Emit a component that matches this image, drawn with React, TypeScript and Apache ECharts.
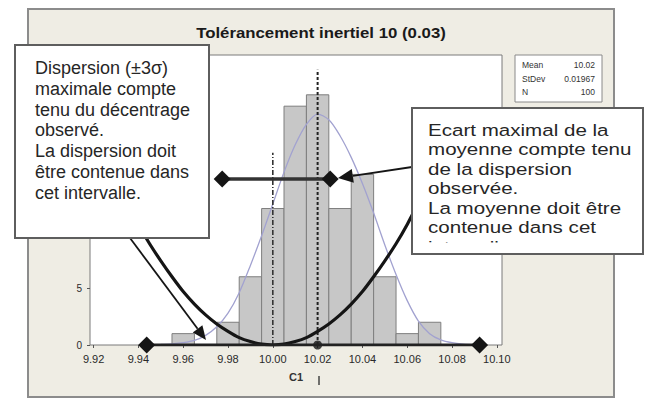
import React, { useEffect, useRef } from "react";
import * as echarts from "echarts";

// ---- data ----
const binCenters = [9.96, 9.97, 9.98, 9.99, 10.0, 10.01, 10.02, 10.03, 10.04, 10.05, 10.06, 10.07];
const binCounts = [1, 0, 2, 6, 12, 21, 22, 12, 15, 6, 1, 2];
const binWidth = 0.01;

const normalX = [9.95, 9.955, 9.96, 9.965, 9.97, 9.975, 9.98, 9.985, 9.99, 9.995, 10.0, 10.005, 10.01, 10.015, 10.02, 10.025, 10.03, 10.035, 10.04, 10.045, 10.05, 10.055, 10.06, 10.065, 10.07, 10.075, 10.08, 10.085, 10.09];
const normalY = [0.05, 0.1, 0.2, 0.4, 0.85, 1.6, 2.8, 4.6, 7.0, 9.6, 12.4, 15.2, 17.6, 19.4, 20.3, 19.8, 18.4, 16.5, 14.2, 11.6, 8.8, 6.2, 3.9, 2.1, 1.0, 0.45, 0.2, 0.08, 0.03];

const parabolaX = [9.935, 9.94, 9.945, 9.95, 9.955, 9.96, 9.965, 9.97, 9.975, 9.98, 9.985, 9.99, 9.995, 10.0, 10.005, 10.01, 10.015, 10.02, 10.025, 10.03, 10.035, 10.04, 10.045, 10.05, 10.055, 10.06, 10.065, 10.07, 10.075, 10.08];
const parabolaY = [12.5, 10.6, 8.9, 7.4, 6.0, 4.7, 3.6, 2.65, 1.85, 1.2, 0.65, 0.3, 0.07, 0, 0.07, 0.3, 0.65, 1.2, 1.85, 2.65, 3.6, 4.7, 6.0, 7.4, 8.9, 10.6, 12.5, 14.5, 16.6, 18.9];

const targetLineX = 10.0;
const targetLineTop = 16.9;
const meanLineX = 10.02;
const meanLineTop = 24.2;
const meanIntervalX = [9.9774, 10.0256];
const meanIntervalY = 14.6;
const dispersionIntervalX = [9.9437, 10.0923];
const meanPointX = 10.02;

const xTicks = [9.92, 9.94, 9.96, 9.98, 10.0, 10.02, 10.04, 10.06, 10.08, 10.1];
const yVisibleLabels = [0, 5]; // the others sit behind the left note in the reference
const xMin = 9.9184;
const xMax = 10.1023;
const yMax = 25.5;
const yInterval = 5;

const titleText = "Tolérancement inertiel 10 (0.03)";
const xName = "C1";
const statsLabels = ["Mean", "StDev", "N"];
const statsValues = ["10.02", "0.01967", "100"];

const leftNote =
  "Dispersion (±3σ)\nmaximale compte\ntenu du décentrage\nobservé.\nLa dispersion doit\nêtre contenue dans\ncet intervalle.";
const rightNote =
  "Ecart maximal de la\nmoyenne compte tenu\nde la dispersion\nobservée.\nLa moyenne doit être\ncontenue dans cet\nintervalle.";

const FONT = '"Liberation Sans", Arial, sans-serif';

export default function App() {
  const ref = useRef<HTMLDivElement>(null);

  useEffect(() => {
    if (!ref.current) return;
    const chart = echarts.init(ref.current, null, { renderer: "svg" });

    const bars = binCenters
      .map((c, i) => [c - binWidth / 2, c + binWidth / 2, binCounts[i]])
      .filter((d) => d[2] > 0);

    const ink = "#151515";

    const statsGraphics: any[] = [];
    statsLabels.forEach((lab, i) => {
      statsGraphics.push({
        type: "text",
        z: 101,
        x: 522,
        y: 65 + i * 13.5,
        style: { text: lab, fontFamily: FONT, fontSize: 8.5, fill: "#333", align: "left", verticalAlign: "middle" },
      });
      statsGraphics.push({
        type: "text",
        z: 101,
        x: 595,
        y: 65 + i * 13.5,
        style: { text: statsValues[i], fontFamily: FONT, fontSize: 8.5, fill: "#333", align: "right", verticalAlign: "middle" },
      });
    });

    const option: any = {
      animation: false,
      backgroundColor: "transparent",
      grid: {
        left: 90,
        right: 144,
        top: 55,
        bottom: 56,
        show: true,
        backgroundColor: "#ffffff",
        borderColor: "#7a7a7a",
        borderWidth: 1,
      },
      xAxis: {
        type: "value",
        min: xMin,
        max: xMax,
        name: xName,
        nameLocation: "middle",
        nameGap: 26,
        nameTextStyle: { fontFamily: FONT, fontSize: 11, color: "#333", fontWeight: "bold" },
        axisLine: { show: false },
        axisTick: { show: true, customValues: xTicks, length: 3, lineStyle: { color: "#555" } },
        axisLabel: {
          customValues: xTicks,
          formatter: (v: number) => v.toFixed(2),
          fontFamily: FONT,
          fontSize: 11,
          color: "#2a2a2a",
          margin: 8,
        },
        splitLine: { show: false },
      },
      yAxis: {
        type: "value",
        min: 0,
        max: yMax,
        interval: yInterval,
        axisLine: { show: false },
        axisTick: { show: true, length: 3, lineStyle: { color: "#555" } },
        axisLabel: {
          customValues: yVisibleLabels,
          fontFamily: FONT,
          fontSize: 10,
          color: "#2a2a2a",
          margin: 8,
        },
        splitLine: { show: false },
      },
      series: [
        {
          type: "custom",
          data: bars,
          renderItem: (params: any, api: any) => {
            const p0 = api.coord([api.value(0), 0]);
            const p1 = api.coord([api.value(1), api.value(2)]);
            return {
              type: "rect",
              shape: { x: p0[0], y: p1[1], width: p1[0] - p0[0], height: p0[1] - p1[1] },
              style: { fill: "#c7c7c7", stroke: "#7e7e7e", lineWidth: 1 },
            };
          },
        },
        {
          type: "line",
          data: normalX.map((x, i) => [x, normalY[i]]),
          smooth: 0.3,
          showSymbol: false,
          lineStyle: { color: "#a2a2d0", width: 1.3 },
        },
        {
          type: "line",
          data: [
            [targetLineX, 0],
            [targetLineX, targetLineTop],
          ],
          showSymbol: false,
          lineStyle: { color: "#333", width: 1.6, type: [5, 2, 1, 2] },
        },
        {
          type: "line",
          data: [
            [meanLineX, 0],
            [meanLineX, meanLineTop],
          ],
          showSymbol: false,
          lineStyle: { color: "#222", width: 2, type: [3, 2] },
        },
        {
          type: "line",
          data: parabolaX.map((x, i) => [x, parabolaY[i]]),
          smooth: 0.3,
          showSymbol: false,
          lineStyle: { color: ink, width: 3.2 },
        },
        {
          type: "line",
          data: meanIntervalX.map((x) => [x, meanIntervalY]),
          symbol: "diamond",
          symbolSize: 17,
          showSymbol: true,
          itemStyle: { color: ink },
          lineStyle: { color: "#333", width: 3.5 },
        },
        {
          type: "line",
          data: dispersionIntervalX.map((x) => [x, 0]),
          symbol: "diamond",
          symbolSize: 17,
          showSymbol: true,
          itemStyle: { color: ink },
          lineStyle: { color: "#222", width: 3 },
        },
        {
          type: "scatter",
          data: [[meanPointX, 0]],
          symbol: "circle",
          symbolSize: 9,
          itemStyle: { color: ink },
        },
      ],
      graphic: [
        {
          type: "text",
          z: 100,
          x: 321,
          y: 33,
          scaleX: 1.2,
          style: {
            text: titleText,
            fontFamily: FONT,
            fontSize: 14,
            fontWeight: "bold",
            fill: "#1a1a1a",
            align: "center",
            verticalAlign: "middle",
          },
        },
        {
          type: "rect",
          z: 100,
          shape: { x: 515, y: 55, width: 87, height: 47 },
          style: { fill: "#fff", stroke: "#8a8a8a", lineWidth: 1 },
        },
        ...statsGraphics,
        {
          type: "line",
          z: 100,
          shape: { x1: 319, y1: 376, x2: 319, y2: 385 },
          style: { stroke: "#444", lineWidth: 1.5 },
        },
        // left callout
        {
          type: "line",
          z: 100,
          shape: { x1: 130, y1: 238, x2: 197.6, y2: 328.8 },
          style: { stroke: ink, lineWidth: 1.8 },
        },
        {
          type: "polygon",
          z: 100,
          shape: { points: [[206, 340], [192.8, 332.4], [202.4, 325.2]] },
          style: { fill: ink },
        },
        {
          type: "rect",
          z: 110,
          shape: { x: 15, y: 45, width: 194, height: 193 },
          style: { fill: "#fff", stroke: "#5e5e5e", lineWidth: 2 },
        },
        {
          type: "text",
          z: 111,
          x: 35,
          y: 57.6,
          style: {
            text: leftNote,
            fontFamily: FONT,
            fontSize: 18,
            lineHeight: 20.8,
            fill: "#262626",
            align: "left",
            verticalAlign: "top",
          },
        },
        // right callout
        {
          type: "line",
          z: 100,
          shape: { x1: 412, y1: 167, x2: 352.8, y2: 175.8 },
          style: { stroke: ink, lineWidth: 1.8 },
        },
        {
          type: "polygon",
          z: 100,
          shape: { points: [[338, 178], [351.8, 168.9], [353.8, 182.7]] },
          style: { fill: ink },
        },
        {
          type: "rect",
          z: 110,
          shape: { x: 412, y: 108, width: 231, height: 146 },
          style: { fill: "#fff", stroke: null },
        },
        {
          type: "text",
          z: 111,
          x: 428,
          y: 120.25,
          scaleX: 1.21,
          style: {
            text: rightNote,
            fontFamily: FONT,
            fontSize: 17,
            lineHeight: 19.5,
            fill: "#262626",
            align: "left",
            verticalAlign: "top",
          },
        },
        {
          type: "rect",
          z: 112,
          shape: { x: 414, y: 242.5, width: 227, height: 11 },
          style: { fill: "#fff", stroke: null },
        },
        {
          type: "rect",
          z: 113,
          shape: { x: 412, y: 108, width: 231, height: 146 },
          style: { fill: null, stroke: "#5e5e5e", lineWidth: 2 },
        },
      ],
    };

    chart.setOption(option);
    return () => chart.dispose();
  }, []);

  return (
    <div style={{ position: "absolute", left: 0, top: 0, width: 646, height: 401, background: "#fff" }}>
      <div
        style={{
          position: "absolute",
          left: 27,
          top: 8,
          width: 588,
          height: 390,
          boxSizing: "border-box",
          background: "#efede4",
          border: "2px solid #8c8c8c",
        }}
      />
      <div ref={ref} style={{ position: "absolute", left: 0, top: 0, width: 646, height: 401 }} />
    </div>
  );
}
